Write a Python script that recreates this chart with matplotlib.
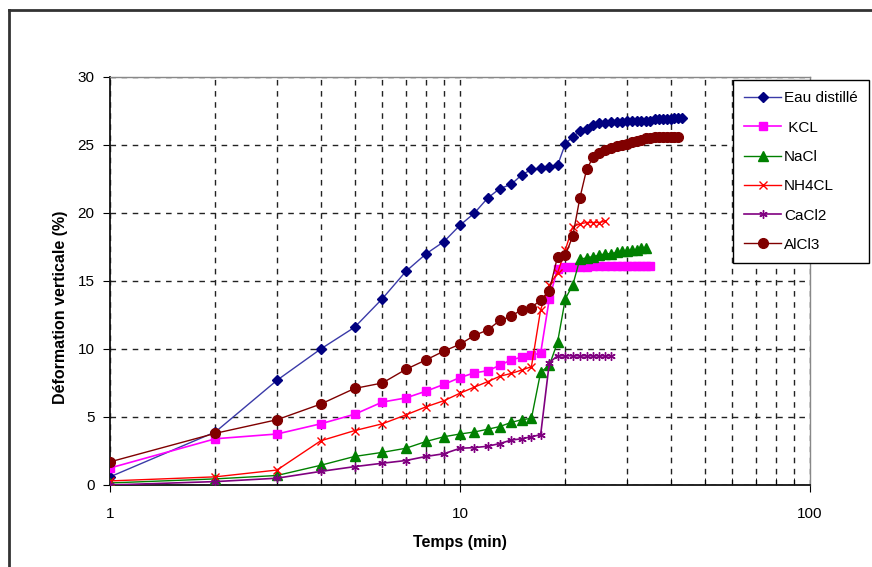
import matplotlib
matplotlib.use("Agg")
import matplotlib.pyplot as plt
from matplotlib.ticker import LogLocator, FixedLocator, NullFormatter
from matplotlib.lines import Line2D

plt.rcParams['font.family'] = ['Liberation Sans', 'DejaVu Sans']

# ---- data (time in minutes, vertical deformation in %) ----
t_eau = list(range(1, 44))
eau = [0.6, 3.9, 7.7, 10.0, 11.6, 13.7, 15.7, 17.0, 17.9, 19.1, 20.0, 21.1, 21.8, 22.1,
       22.8, 23.2, 23.3, 23.4, 23.5, 25.1, 25.6, 26.0, 26.2, 26.5, 26.6, 26.6, 26.7, 26.7,
       26.7, 26.8, 26.8, 26.8, 26.8, 26.8, 26.8, 26.9, 26.9, 26.9, 26.9, 26.9, 27.0, 27.0, 27.0]

t_kcl = list(range(1, 36))
kcl = [1.25, 3.4, 3.75, 4.5, 5.2, 6.1, 6.4, 6.9, 7.4, 7.9, 8.25, 8.4, 8.8, 9.2, 9.4, 9.55,
       9.7, 13.7, 15.9, 16.0, 16.0, 16.0, 16.0, 16.1, 16.1, 16.1, 16.1, 16.1, 16.1, 16.1,
       16.1, 16.1, 16.1, 16.1, 16.1]

t_nacl = list(range(1, 35))
nacl = [0.15, 0.45, 0.7, 1.45, 2.1, 2.4, 2.7, 3.2, 3.55, 3.75, 3.9, 4.1, 4.3, 4.6, 4.8, 4.9,
        8.3, 8.8, 10.5, 13.7, 14.7, 16.6, 16.7, 16.8, 16.9, 17.0, 17.0, 17.1, 17.2, 17.2,
        17.3, 17.3, 17.4, 17.4]

t_nh4cl = list(range(1, 27))
nh4cl = [0.3, 0.6, 1.1, 3.25, 4.0, 4.5, 5.15, 5.75, 6.2, 6.75, 7.2, 7.6, 8.0, 8.2, 8.45, 8.7,
         12.9, 14.7, 15.6, 17.3, 19.0, 19.2, 19.3, 19.3, 19.3, 19.4]

t_cacl2 = list(range(1, 28))
cacl2 = [0.0, 0.25, 0.5, 1.0, 1.35, 1.6, 1.8, 2.1, 2.3, 2.7, 2.75, 2.85, 3.05, 3.3, 3.4, 3.55,
         3.7, 9.0, 9.5, 9.5, 9.5, 9.5, 9.5, 9.5, 9.5, 9.5, 9.5]

t_alcl3 = list(range(1, 43))
alcl3 = [1.7, 3.8, 4.8, 5.95, 7.1, 7.5, 8.5, 9.2, 9.85, 10.35, 11.0, 11.4, 12.1, 12.4, 12.9,
         13.05, 13.6, 14.3, 16.8, 16.9, 18.3, 21.1, 23.2, 24.1, 24.4, 24.6, 24.8, 24.9, 25.0,
         25.1, 25.2, 25.3, 25.4, 25.5, 25.5, 25.6, 25.6, 25.6, 25.6, 25.6, 25.6, 25.6]

labels = ["Eau distillé", " KCL", "NaCl", "NH4CL", "CaCl2", "AlCl3"]
y_ticks = [0, 5, 10, 15, 20, 25, 30]
x_ticks = [1, 10, 100]

# ---- figure ----
W, H = 872, 567
fig = plt.figure(figsize=(W / 100, H / 100), dpi=100)
fig.patch.set_facecolor('white')

# outer frame of the scanned chart
fig.add_artist(Line2D([9 / W, 9 / W], [0, 1 - 10 / H], color='#333333', lw=2.0))
fig.add_artist(Line2D([9 / W, 1], [1 - 10 / H, 1 - 10 / H], color='#333333', lw=2.0))

ax = fig.add_axes([110 / W, (H - 485) / H, 700 / W, 408 / H])

series = [
    (t_eau, eau, dict(color='#3a3aa8', marker='D', ms=5.5, mfc='#000080', mec='#000080', lw=1.0)),
    (t_kcl, kcl, dict(color='#ff00ff', marker='s', ms=6, mfc='#ff00ff', mec='#ff00ff', lw=1.2)),
    (t_nacl, nacl, dict(color='#008000', marker='^', ms=6.5, mfc='#008000', mec='#008000', lw=1.0)),
    (t_nh4cl, nh4cl, dict(color='#ff0000', marker='x', ms=5.5, mew=1.0, lw=1.0)),
    (t_cacl2, cacl2, dict(color='#800080', marker=(6, 2, 0), ms=6, mew=1.0, lw=1.2)),
    (t_alcl3, alcl3, dict(color='#800000', marker='o', ms=7, mfc='#800000', mec='#800000', lw=1.0)),
]
handles = []
for (t, v, kw), lab in zip(series, labels):
    h, = ax.plot(t, v, label=lab, zorder=3, **kw)
    handles.append(h)

ax.set_xscale('log')
ax.set_xlim(1, 100)
ax.set_ylim(0, 30)
ax.set_yticks(y_ticks)
ax.xaxis.set_major_locator(FixedLocator(x_ticks))
ax.set_xticklabels([str(x) for x in x_ticks])
ax.xaxis.set_minor_locator(LogLocator(base=10, subs=range(2, 10)))
ax.xaxis.set_minor_formatter(NullFormatter())

ax.grid(True, which='both', axis='x', color='#222222', linestyle=(0, (4, 4)), lw=1.0)
ax.grid(True, which='major', axis='y', color='#222222', linestyle=(0, (4, 4)), lw=1.0)
ax.set_axisbelow(True)

ax.tick_params(axis='x', which='major', direction='out', length=5, pad=11, labelsize=11)
ax.tick_params(axis='x', which='minor', direction='in', length=5)
ax.tick_params(axis='y', which='major', direction='out', length=5, pad=6, labelsize=11)

for s in ['left', 'bottom']:
    ax.spines[s].set_color('#111111')
    ax.spines[s].set_linewidth(1.3)
for s in ['top', 'right']:
    ax.spines[s].set_color('#888888')
    ax.spines[s].set_linewidth(1.0)

ax.set_xlabel("Temps (min)", fontsize=11.5, fontweight='bold', labelpad=10)
ax.set_ylabel("Déformation verticale (%)", fontsize=11.5, fontweight='bold')
ax.yaxis.set_label_coords(-0.06, 0.435)

leg = fig.legend(handles=handles, labels=labels, loc='upper left',
                 bbox_to_anchor=(733 / W, 1 - 80 / H), fontsize=11,
                 frameon=True, fancybox=False, edgecolor='black', framealpha=1,
                 handlelength=2.4, labelspacing=1.0, borderpad=0.75, handletextpad=0.2,
                 borderaxespad=0)
leg.get_frame().set_linewidth(1.0)
leg.set_zorder(10)

fig.savefig("out.png", dpi=100)
